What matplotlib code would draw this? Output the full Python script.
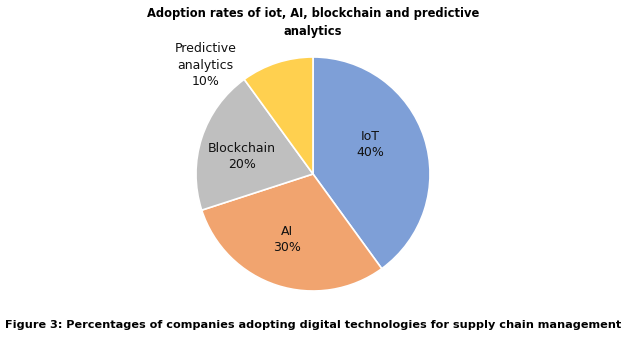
import matplotlib
matplotlib.use("Agg")
import matplotlib.pyplot as plt

categories = ["IoT", "AI", "Blockchain", "Predictive\nanalytics"]
shares = [40, 30, 20, 10]
colors = ["#7E9FD7", "#F1A46F", "#BFBFBF", "#FFD04F"]

title = "Adoption rates of iot, AI, blockchain and predictive\nanalytics"
caption = "Figure 3: Percentages of companies adopting digital technologies for supply chain management"

# label anchor points in pie units (radius = 1)
label_pos = [(0.49, 0.25), (-0.22, -0.56), (-0.61, 0.15), (-0.92, 0.93)]

fig = plt.figure(figsize=(6.26, 3.40), dpi=100)
R = 117
cx, cy = 313, 174
ax = fig.add_axes([(cx - R) / 626, (340 - cy - R) / 340, 2 * R / 626, 2 * R / 340])

ax.pie(shares, colors=colors, startangle=90, counterclock=False,
       wedgeprops=dict(edgecolor="white", linewidth=1.2))
ax.set_xlim(-1, 1)
ax.set_ylim(-1, 1)
ax.set_aspect("equal")
ax.axis("off")

for name, val, (x, y) in zip(categories, shares, label_pos):
    ax.text(x, y, f"{name}\n{val}%", ha="center", va="center",
            fontsize=9, color="#111111", linespacing=1.35)

fig.text(0.5, 1 - 22.5 / 340, title, ha="center", va="center", fontsize=8.3,
         fontweight="bold", linespacing=1.5)
fig.text(0.5, 1 - 325 / 340, caption, ha="center", va="center", fontsize=8.1,
         fontweight="bold")

fig.savefig("out.png", dpi=100)
